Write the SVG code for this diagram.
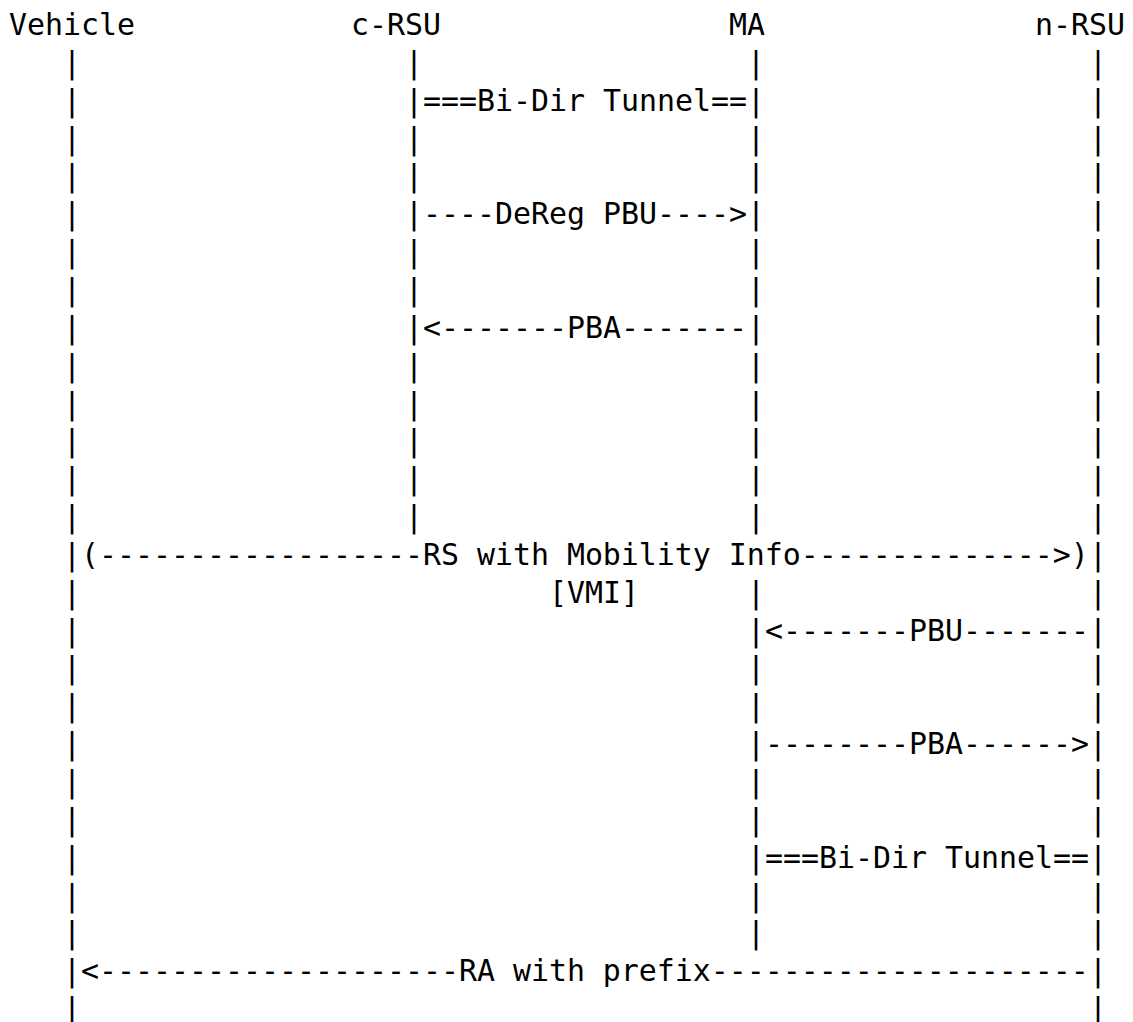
<svg xmlns="http://www.w3.org/2000/svg" width="1133" height="1022" viewBox="0 0 1133 1022">
<style>
text{font-family:"DejaVu Sans Mono","Liberation Mono",monospace;font-size:29.9px;fill:#000;white-space:pre}
</style>
<rect width="1133" height="1022" fill="#fff"/>
<g id="vehicle">
<text x="9" y="35">Vehicle</text>
<text><tspan x="63" y="72.85">|</tspan><tspan x="63" y="110.7">|</tspan><tspan x="63" y="148.55">|</tspan><tspan x="63" y="186.4">|</tspan><tspan x="63" y="224.25">|</tspan><tspan x="63" y="262.1">|</tspan><tspan x="63" y="299.95">|</tspan><tspan x="63" y="337.8">|</tspan><tspan x="63" y="375.65">|</tspan><tspan x="63" y="413.5">|</tspan><tspan x="63" y="451.35">|</tspan><tspan x="63" y="489.2">|</tspan><tspan x="63" y="527.05">|</tspan><tspan x="63" y="564.9">|</tspan><tspan x="63" y="602.75">|</tspan><tspan x="63" y="640.6">|</tspan><tspan x="63" y="678.45">|</tspan><tspan x="63" y="716.3">|</tspan><tspan x="63" y="754.15">|</tspan><tspan x="63" y="792">|</tspan><tspan x="63" y="829.85">|</tspan><tspan x="63" y="867.7">|</tspan><tspan x="63" y="905.55">|</tspan><tspan x="63" y="943.4">|</tspan><tspan x="63" y="981.25">|</tspan><tspan x="63" y="1019.1">|</tspan></text>
</g>
<g id="c-rsu">
<text x="351" y="35">c-RSU</text>
<text><tspan x="405" y="72.85">|</tspan><tspan x="405" y="110.7">|</tspan><tspan x="405" y="148.55">|</tspan><tspan x="405" y="186.4">|</tspan><tspan x="405" y="224.25">|</tspan><tspan x="405" y="262.1">|</tspan><tspan x="405" y="299.95">|</tspan><tspan x="405" y="337.8">|</tspan><tspan x="405" y="375.65">|</tspan><tspan x="405" y="413.5">|</tspan><tspan x="405" y="451.35">|</tspan><tspan x="405" y="489.2">|</tspan><tspan x="405" y="527.05">|</tspan></text>
</g>
<g id="ma">
<text x="729" y="35">MA</text>
<text><tspan x="747" y="72.85">|</tspan><tspan x="747" y="110.7">|</tspan><tspan x="747" y="148.55">|</tspan><tspan x="747" y="186.4">|</tspan><tspan x="747" y="224.25">|</tspan><tspan x="747" y="262.1">|</tspan><tspan x="747" y="299.95">|</tspan><tspan x="747" y="337.8">|</tspan><tspan x="747" y="375.65">|</tspan><tspan x="747" y="413.5">|</tspan><tspan x="747" y="451.35">|</tspan><tspan x="747" y="489.2">|</tspan><tspan x="747" y="527.05">|</tspan><tspan x="747" y="602.75">|</tspan><tspan x="747" y="640.6">|</tspan><tspan x="747" y="678.45">|</tspan><tspan x="747" y="716.3">|</tspan><tspan x="747" y="754.15">|</tspan><tspan x="747" y="792">|</tspan><tspan x="747" y="829.85">|</tspan><tspan x="747" y="867.7">|</tspan><tspan x="747" y="905.55">|</tspan><tspan x="747" y="943.4">|</tspan></text>
</g>
<g id="n-rsu">
<text x="1035" y="35">n-RSU</text>
<text><tspan x="1089" y="72.85">|</tspan><tspan x="1089" y="110.7">|</tspan><tspan x="1089" y="148.55">|</tspan><tspan x="1089" y="186.4">|</tspan><tspan x="1089" y="224.25">|</tspan><tspan x="1089" y="262.1">|</tspan><tspan x="1089" y="299.95">|</tspan><tspan x="1089" y="337.8">|</tspan><tspan x="1089" y="375.65">|</tspan><tspan x="1089" y="413.5">|</tspan><tspan x="1089" y="451.35">|</tspan><tspan x="1089" y="489.2">|</tspan><tspan x="1089" y="527.05">|</tspan><tspan x="1089" y="564.9">|</tspan><tspan x="1089" y="602.75">|</tspan><tspan x="1089" y="640.6">|</tspan><tspan x="1089" y="678.45">|</tspan><tspan x="1089" y="716.3">|</tspan><tspan x="1089" y="754.15">|</tspan><tspan x="1089" y="792">|</tspan><tspan x="1089" y="829.85">|</tspan><tspan x="1089" y="867.7">|</tspan><tspan x="1089" y="905.55">|</tspan><tspan x="1089" y="943.4">|</tspan><tspan x="1089" y="981.25">|</tspan><tspan x="1089" y="1019.1">|</tspan></text>
</g>
<g id="connectors">
<text x="423" y="110.7">===Bi-Dir Tunnel==</text>
<text x="423" y="224.25">----DeReg PBU----&gt;</text>
<text x="423" y="337.8">&lt;-------PBA-------</text>
<text x="81" y="564.9">(------------------RS with Mobility Info--------------&gt;)</text>
<text x="549" y="602.75">[VMI]</text>
<text x="765" y="640.6">&lt;-------PBU-------</text>
<text x="765" y="754.15">--------PBA------&gt;</text>
<text x="765" y="867.7">===Bi-Dir Tunnel==</text>
<text x="81" y="981.25">&lt;--------------------RA with prefix---------------------</text>
</g>
</svg>
